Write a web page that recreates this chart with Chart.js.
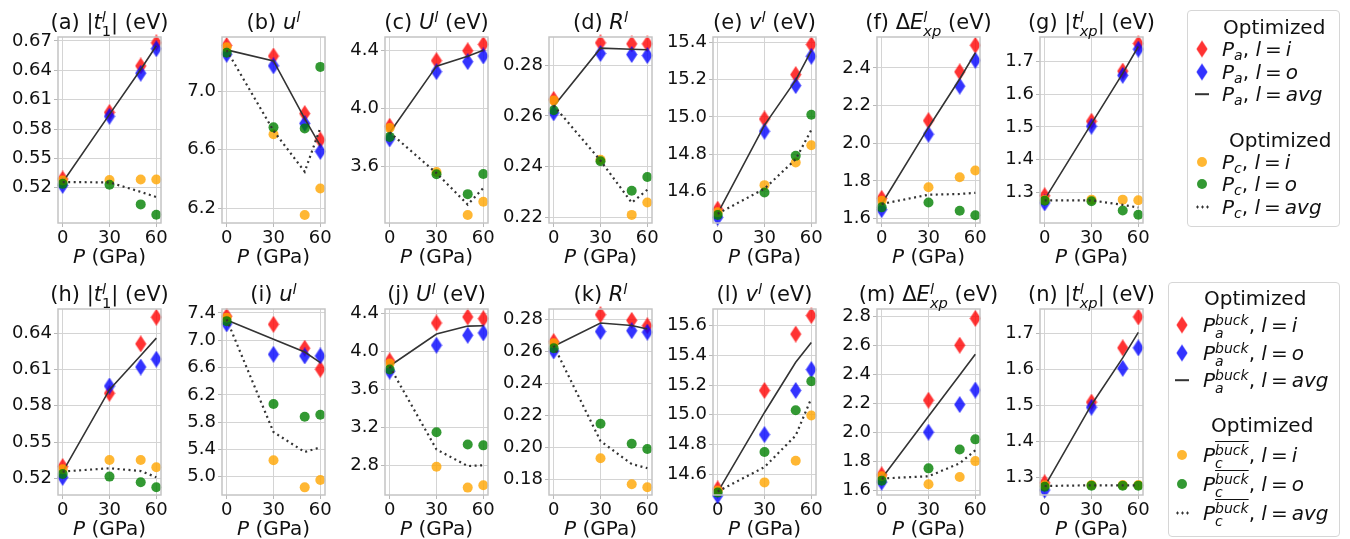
<!DOCTYPE html>
<html>
<head>
<meta charset="utf-8">
<script src="https://cdn.jsdelivr.net/npm/chart.js@4.4.0/dist/chart.umd.min.js"></script>
<style>
  body { margin: 0; width: 1350px; height: 539px; background: #fff; position: relative; overflow: hidden;
         font-family: "DejaVu Sans", sans-serif; color: #111; }
  canvas { position: absolute; }
  .title { position: absolute; width: 220px; text-align: center; font-size: 21px; line-height: 32px; white-space: nowrap; }
  .xlab { position: absolute; width: 200px; text-align: center; font-size: 20px; line-height: 24px; white-space: nowrap; }
  .ss { display: inline-flex; flex-direction: column; align-items: flex-start; font-size: 0.7em; line-height: 0.95; vertical-align: 0.5em; }
  sup { font-size: 0.7em; vertical-align: 0.5em; line-height: 0; }
  sub { font-size: 0.7em; vertical-align: -0.3em; line-height: 0; }
  .ov { text-decoration: overline; }
  .legend { position: absolute; background: #fff; border: 1px solid #d6d6d6; border-radius: 4px; box-sizing: border-box; }
  .ltext { position: absolute; font-size: 20px; line-height: 32px; white-space: nowrap; }
  .mk { position: absolute; transform: translate(-50%, -50%); }
</style>
</head>
<body>
<script>
// pressures of the four structures (GPa)
const pressure = [0, 30, 50, 60];
const xTicks = [0, 30, 60];

// top row (a)-(g): optimized P_a (diamonds, solid) and P_c (circles, dotted)
const topPaI = [
  [0.529, 0.597, 0.6445, 0.668],
  [7.312, 7.240, 6.847, 6.667],
  [3.874, 4.327, 4.395, 4.439],
  [0.2665, 0.2888, 0.2884, 0.2884],
  [14.505, 14.989, 15.227, 15.388],
  [1.708, 2.12, 2.379, 2.52],
  [1.290, 1.517, 1.670, 1.754]
];
const topPaO = [
  [0.5224, 0.593, 0.637, 0.662],
  [7.252, 7.173, 6.78, 6.589],
  [3.787, 4.251, 4.32, 4.359],
  [0.2612, 0.2846, 0.2842, 0.2838],
  [14.461, 14.923, 15.168, 15.325],
  [1.648, 2.048, 2.303, 2.44],
  [1.268, 1.502, 1.657, 1.737]
];
const topPaAvg = [
  [0.5257, 0.595, 0.6408, 0.665],
  [7.282, 7.207, 6.813, 6.628],
  [3.83, 4.289, 4.357, 4.399],
  [0.2638, 0.2867, 0.2863, 0.2861],
  [14.483, 14.956, 15.197, 15.356],
  [1.678, 2.084, 2.341, 2.48],
  [1.279, 1.51, 1.663, 1.745]
];
const topPcI = [
  [0.5275, 0.528, 0.5285, 0.5285],
  [7.30, 6.706, 6.155, 6.335],
  [3.863, 3.559, 3.262, 3.353],
  [0.2661, 0.2427, 0.2210, 0.2259],
  [14.488, 14.634, 14.755, 14.848],
  [1.695, 1.767, 1.82, 1.856],
  [1.277, 1.278, 1.278, 1.276]
];
const topPcO = [
  [0.524, 0.523, 0.503, 0.4925],
  [7.263, 6.753, 6.746, 7.166],
  [3.801, 3.543, 3.406, 3.545],
  [0.2622, 0.2421, 0.2305, 0.2359],
  [14.474, 14.595, 14.791, 15.012],
  [1.66, 1.686, 1.642, 1.618],
  [1.275, 1.273, 1.245, 1.232]
];
const topPcAvg = [
  [0.5258, 0.5255, 0.5158, 0.5105],
  [7.28, 6.73, 6.45, 6.75],
  [3.832, 3.551, 3.334, 3.449],
  [0.2641, 0.2424, 0.2258, 0.2309],
  [14.481, 14.615, 14.773, 14.93],
  [1.678, 1.727, 1.731, 1.737],
  [1.276, 1.276, 1.262, 1.254]
];

// bottom row (h)-(n): buckled structures
const botPaI = [
  [0.5297, 0.5903, 0.6312, 0.6532],
  [7.352, 7.233, 6.883, 6.576],
  [3.898, 4.298, 4.361, 4.343],
  [0.2663, 0.2831, 0.2796, 0.2762],
  [14.50, 15.163, 15.543, 15.668],
  [1.705, 2.22, 2.60, 2.785],
  [1.285, 1.509, 1.66, 1.746]
];
const botPaO = [
  [0.5208, 0.5963, 0.612, 0.6185],
  [7.24, 6.794, 6.77, 6.77],
  [3.79, 4.063, 4.168, 4.193],
  [0.2604, 0.2726, 0.2731, 0.2722],
  [14.455, 14.866, 15.163, 15.304],
  [1.655, 2.0, 2.19, 2.29],
  [1.265, 1.495, 1.603, 1.66]
];
const botPaAvg = [
  [0.5253, 0.5933, 0.6216, 0.6359],
  [7.296, 7.014, 6.827, 6.673],
  [3.844, 4.181, 4.265, 4.268],
  [0.2634, 0.2779, 0.2764, 0.2742],
  [14.478, 15.015, 15.353, 15.486],
  [1.68, 2.11, 2.395, 2.538],
  [1.275, 1.502, 1.632, 1.703]
];
const botPcI = [
  [0.5275, 0.5352, 0.5352, 0.5291],
  [7.33, 5.242, 4.845, 4.952],
  [3.87, 2.783, 2.563, 2.587],
  [0.2652, 0.1932, 0.1769, 0.175],
  [14.49, 14.544, 14.69, 14.995],
  [1.695, 1.64, 1.69, 1.80],
  [1.278, 1.279, 1.279, 1.279]
];
const botPcO = [
  [0.5236, 0.5214, 0.5167, 0.5126],
  [7.28, 6.067, 5.88, 5.91],
  [3.807, 3.147, 3.018, 3.008],
  [0.2621, 0.2148, 0.2023, 0.199],
  [14.475, 14.749, 15.03, 15.225],
  [1.665, 1.75, 1.88, 1.95],
  [1.274, 1.277, 1.277, 1.277]
];
const botPcAvg = [
  [0.5256, 0.5283, 0.526, 0.5209],
  [7.305, 5.655, 5.363, 5.431],
  [3.839, 2.965, 2.79, 2.798],
  [0.2637, 0.204, 0.1896, 0.187],
  [14.483, 14.647, 14.86, 15.11],
  [1.68, 1.695, 1.785, 1.875],
  [1.276, 1.278, 1.278, 1.278]
];

// y axes
const topYTicks = [
  [0.52, 0.55, 0.58, 0.61, 0.64, 0.67],
  [6.2, 6.6, 7.0],
  [3.6, 4.0, 4.4],
  [0.22, 0.24, 0.26, 0.28],
  [14.6, 14.8, 15.0, 15.2, 15.4],
  [1.6, 1.8, 2.0, 2.2, 2.4],
  [1.3, 1.4, 1.5, 1.6, 1.7]
];
const botYTicks = [
  [0.52, 0.55, 0.58, 0.61, 0.64],
  [5.0, 5.4, 5.8, 6.2, 6.6, 7.0, 7.4],
  [2.8, 3.2, 3.6, 4.0, 4.4],
  [0.18, 0.20, 0.22, 0.24, 0.26, 0.28],
  [14.6, 14.8, 15.0, 15.2, 15.4, 15.6],
  [1.6, 1.8, 2.0, 2.2, 2.4, 2.6, 2.8],
  [1.3, 1.4, 1.5, 1.6, 1.7]
];
const topYRange = [[0.484, 0.674], [6.10, 7.37], [3.207, 4.49], [0.2178, 0.2911], [14.431, 15.4285], [1.577, 2.564], [1.2068, 1.774]];
const botYRange = [[0.5062, 0.66], [4.733, 7.458], [2.485, 4.445], [0.1702, 0.2867], [14.459, 15.712], [1.566, 2.85], [1.251, 1.768]];
const topDigits = [2, 1, 1, 2, 1, 1, 1];
const botDigits = [2, 1, 1, 2, 1, 1, 1];

const ss = (up, dn) => `<span class="ss"><span>${up}</span><span>${dn}</span></span>`;
const topTitles = [
  `(a) |<i>t</i>${ss('<i>l</i>', '1')}| (eV)`,
  `(b) <i>u</i><sup><i>l</i></sup>`,
  `(c) <i>U</i><sup><i>l</i></sup> (eV)`,
  `(d) <i>R</i><sup><i>l</i></sup>`,
  `(e) <i>v</i><sup><i>l</i></sup> (eV)`,
  `(f) Δ<i>E</i>${ss('<i>l</i>', '<i>xp</i>')} (eV)`,
  `(g) |<i>t</i>${ss('<i>l</i>', '<i>xp</i>')}| (eV)`
];
const botTitles = [
  `(h) |<i>t</i>${ss('<i>l</i>', '1')}| (eV)`,
  `(i) <i>u</i><sup><i>l</i></sup>`,
  `(j) <i>U</i><sup><i>l</i></sup> (eV)`,
  `(k) <i>R</i><sup><i>l</i></sup>`,
  `(l) <i>v</i><sup><i>l</i></sup> (eV)`,
  `(m) Δ<i>E</i>${ss('<i>l</i>', '<i>xp</i>')} (eV)`,
  `(n) |<i>t</i>${ss('<i>l</i>', '<i>xp</i>')}| (eV)`
];

// layout
const COL_LEFT = [58, 222, 385, 549, 713, 877, 1040];
const ROW_TOP = [37, 309];
const PW = 103, PH = 186;
const YAXIS_W = 60, PAD_T = 14, PAD_R = 14, XAXIS_H = 36;

const RED = 'rgba(255,0,0,0.8)', BLUE = 'rgba(0,0,255,0.8)';
const ORANGE = 'rgba(255,165,0,0.8)', GREEN = 'rgba(0,128,0,0.8)', LINE = '#333333';

function diamond(color) {
  const c = document.createElement('canvas');
  c.width = 12; c.height = 17;
  const g = c.getContext('2d');
  g.fillStyle = color;
  g.beginPath();
  g.moveTo(6, 0); g.lineTo(11.6, 8.5); g.lineTo(6, 17); g.lineTo(0.4, 8.5);
  g.closePath(); g.fill();
  return c;
}
const redDiamond = diamond(RED), blueDiamond = diamond(BLUE);

const framePlugin = {
  id: 'frame',
  afterDatasetsDraw(chart) {
    const { ctx, chartArea: a } = chart;
    ctx.save();
    ctx.strokeStyle = '#c4c4c4';
    ctx.lineWidth = 1.5;
    ctx.strokeRect(a.left, a.top, a.right - a.left, a.bottom - a.top);
    ctx.restore();
  }
};

const pts = ys => pressure.map((p, i) => ({ x: p, y: ys[i] }));
const tickFont = { family: 'DejaVu Sans', size: 18 };
const gridOpts = { color: '#d4d4d4', lineWidth: 1, tickLength: 4, tickColor: '#b8b8b8' };

function addText(cls, html, left, top) {
  const d = document.createElement('div');
  d.className = cls;
  d.innerHTML = html;
  d.style.left = left + 'px';
  d.style.top = top + 'px';
  document.body.appendChild(d);
  return d;
}

function makePanel(row, col, s) {
  const L = COL_LEFT[col], T = ROW_TOP[row];
  const cv = document.createElement('canvas');
  cv.width = YAXIS_W + PW + PAD_R;
  cv.height = PAD_T + PH + XAXIS_H;
  cv.style.left = (L - YAXIS_W) + 'px';
  cv.style.top = (T - PAD_T) + 'px';
  document.body.appendChild(cv);

  new Chart(cv, {
    type: 'scatter',
    data: {
      datasets: [
        { data: pts(s.paI), pointStyle: redDiamond, pointRadius: 8, order: 6 },
        { data: pts(s.paO), pointStyle: blueDiamond, pointRadius: 8, order: 5 },
        { data: pts(s.paAvg), showLine: true, borderColor: LINE, borderWidth: 1.6, pointRadius: 0, order: 4 },
        { data: pts(s.pcI), pointStyle: 'circle', pointRadius: 5, backgroundColor: ORANGE, borderWidth: 0, order: 3 },
        { data: pts(s.pcO), pointStyle: 'circle', pointRadius: 5, backgroundColor: GREEN, borderWidth: 0, order: 2 },
        { data: pts(s.pcAvg), showLine: true, borderColor: LINE, borderWidth: 2.2, borderDash: [2, 3.5], pointRadius: 0, order: 1 }
      ]
    },
    options: {
      responsive: false,
      animation: false,
      events: [],
      clip: false,
      layout: { padding: { top: PAD_T, right: PAD_R, left: 0, bottom: 0 }, autoPadding: false },
      plugins: { legend: { display: false }, tooltip: { enabled: false } },
      scales: {
        x: {
          type: 'linear', min: -3, max: 63,
          afterBuildTicks: sc => { sc.ticks = xTicks.map(v => ({ value: v })); },
          afterFit: sc => { sc.height = XAXIS_H; },
          grid: gridOpts,
          border: { display: false },
          ticks: { font: tickFont, color: '#111', padding: 1, maxRotation: 0, callback: v => String(v) }
        },
        y: {
          type: 'linear', min: s.range[0], max: s.range[1],
          afterBuildTicks: sc => { sc.ticks = s.yTicks.map(v => ({ value: v })); },
          afterFit: sc => { sc.width = YAXIS_W; },
          grid: gridOpts,
          border: { display: false },
          ticks: { font: tickFont, color: '#111', padding: 2, callback: v => Number(v).toFixed(s.digits) }
        }
      }
    },
    plugins: [framePlugin]
  });

  const cx = L + PW / 2;
  addText('title', s.title, cx - 110, T - 31);
  addText('xlab', '<i>P</i> (GPa)', cx - 100, T + PH + 21);
}

for (let c = 0; c < 7; c++) {
  makePanel(0, c, {
    paI: topPaI[c], paO: topPaO[c], paAvg: topPaAvg[c],
    pcI: topPcI[c], pcO: topPcO[c], pcAvg: topPcAvg[c],
    yTicks: topYTicks[c], range: topYRange[c], digits: topDigits[c], title: topTitles[c]
  });
  makePanel(1, c, {
    paI: botPaI[c], paO: botPaO[c], paAvg: botPaAvg[c],
    pcI: botPcI[c], pcO: botPcO[c], pcAvg: botPcAvg[c],
    yTicks: botYTicks[c], range: botYRange[c], digits: botDigits[c], title: botTitles[c]
  });
}

// legends
function marker(kind, x, y) {
  const m = document.createElement('div');
  m.className = 'mk';
  m.style.left = x + 'px';
  m.style.top = y + 'px';
  if (kind === 'red' || kind === 'blue') {
    const c = kind === 'red' ? redDiamond : blueDiamond;
    const img = document.createElement('canvas');
    img.width = c.width; img.height = c.height;
    img.getContext('2d').drawImage(c, 0, 0);
    img.style.position = 'static';
    img.style.display = 'block';
    m.appendChild(img);
  } else if (kind === 'orange' || kind === 'green') {
    m.style.width = '10px'; m.style.height = '10px'; m.style.borderRadius = '50%';
    m.style.background = kind === 'orange' ? ORANGE : GREEN;
  } else if (kind === 'solid') {
    m.style.width = '14px'; m.style.height = '1.6px'; m.style.background = LINE;
  } else {
    m.style.width = '14px'; m.style.height = '3px';
    m.style.background = 'radial-gradient(circle, #333 1.1px, transparent 1.4px) 0 0 / 5px 3px repeat-x';
  }
  document.body.appendChild(m);
}

function legend(box, mx, tx, rows) {
  const b = document.createElement('div');
  b.className = 'legend';
  Object.assign(b.style, { left: box[0] + 'px', top: box[1] + 'px', width: box[2] + 'px', height: box[3] + 'px' });
  document.body.appendChild(b);
  rows.forEach(r => {
    if (r.kind === 'title') {
      addText('ltext', r.html, r.x, r.y - 16);
    } else {
      marker(r.kind, mx, r.y);
      addText('ltext', r.html, tx, r.y - 16);
    }
  });
}

const eq = v => `, <i>l</i>&thinsp;=&thinsp;<i>${v}</i>`;
const pa = `<i>P</i><sub><i>a</i></sub>`, pc = `<i>P</i><sub><i>c</i></sub>`;
const paB = `<i>P</i>${ss('<i>buck</i>', '<i>a</i>')}`;
const pcB = `<i>P</i>${ss('<span class="ov"><i>buck</i></span>', '<i>c</i>')}`;

legend([1187, 10, 153, 217], 1202, 1222, [
  { kind: 'title', html: 'Optimized', x: 1223, y: 27 },
  { kind: 'red', html: pa + eq('i'), y: 49 },
  { kind: 'blue', html: pa + eq('o'), y: 72 },
  { kind: 'solid', html: pa + eq('avg'), y: 94 },
  { kind: 'title', html: 'Optimized', x: 1229, y: 140 },
  { kind: 'orange', html: pc + eq('i'), y: 162 },
  { kind: 'green', html: pc + eq('o'), y: 184 },
  { kind: 'dotted', html: pc + eq('avg'), y: 207 }
]);

legend([1168, 282, 172, 255], 1182, 1203, [
  { kind: 'title', html: 'Optimized', x: 1204, y: 298 },
  { kind: 'red', html: paB + eq('i'), y: 325 },
  { kind: 'blue', html: paB + eq('o'), y: 353 },
  { kind: 'solid', html: paB + eq('avg'), y: 380 },
  { kind: 'title', html: 'Optimized', x: 1211, y: 425 },
  { kind: 'orange', html: pcB + eq('i'), y: 455 },
  { kind: 'green', html: pcB + eq('o'), y: 484 },
  { kind: 'dotted', html: pcB + eq('avg'), y: 513 }
]);
</script>
</body>
</html>
